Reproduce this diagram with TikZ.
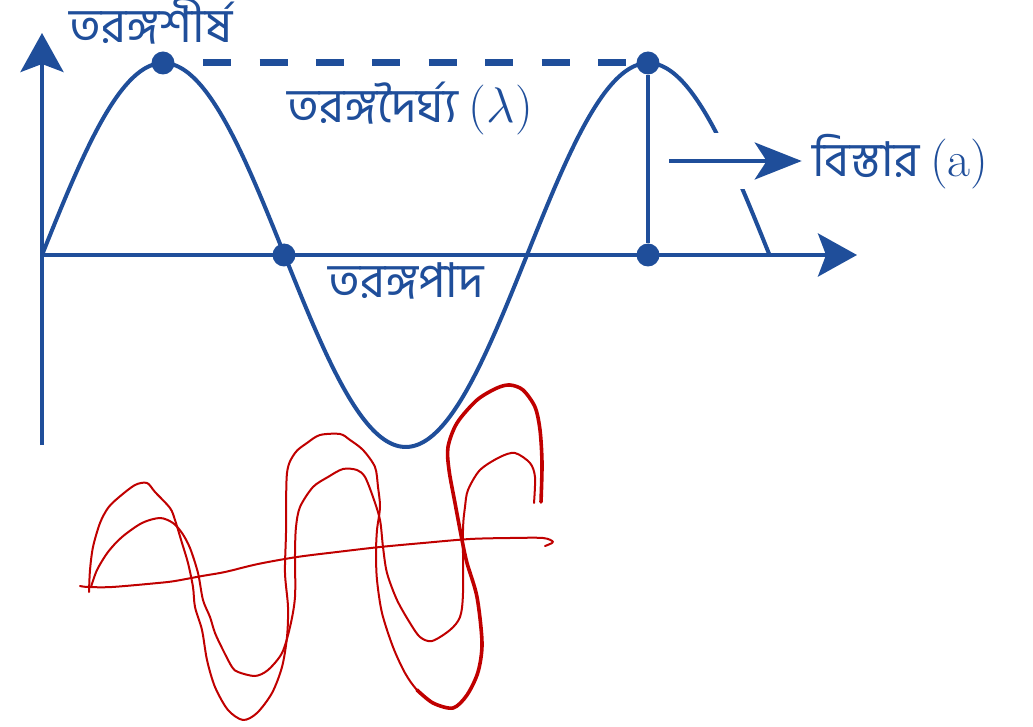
\RequirePackage{fix-cm}
\documentclass[tikz,border=0pt]{standalone}
\usepackage{fontspec}
\newfontfamily\bnfont[Script=Bengali]{Hind Siliguri}
\usepackage{tikz}
\usetikzlibrary{positioning,arrows.meta,calc}
\definecolor{wave}{HTML}{1F4E9A}
\definecolor{pen}{HTML}{C00000}
\newcommand{\latinpart}[1]{{\rmfamily\fontsize{50}{50}\selectfont #1}}

\begin{document}
\begin{tikzpicture}[
    x=1pt, y=-1pt,
    lbl/.style={text=wave, font=\bnfont\fontsize{48}{48}\selectfont, inner sep=0pt, anchor=base},
    dot/.style={circle, fill=wave, minimum size=23pt, inner sep=0pt},
    axis/.style={-{Stealth[length=39pt, width=43pt, inset=8pt]}, line width=4pt, wave},
    arr/.style={-{Stealth[length=47pt, width=37pt, inset=12pt]}, line width=4pt, wave},
    curve/.style={line width=4pt, wave},
    scribble/.style={pen, line width=2pt, line cap=round, line join=round}
  ]
    \useasboundingbox (0,0) rectangle (1033,727);

    % axes
    \coordinate (origin) at (42,255);
    \coordinate (ytop) at (42,33);
    \coordinate (ybot) at (42,445);
    \coordinate (xend) at (857,255);
    \draw[axis] (ybot) -- (ytop);
    \draw[axis] (origin) -- (xend);

    % wave
    \draw[curve] plot[domain=42:770, samples=150, smooth] (\x, {255-192*sin((\x-42)/485*360)});

    \node[dot] (crestA) at (163,63) {};
    \node[dot] (nodeA) at (284,255) {};
    \node[dot] (crestB) at (648,63) {};
    \node[dot] (footB) at (648,255) {};

    \draw[wave, line width=7pt, dash pattern=on 28pt off 28.4pt, dash phase=28pt] (crestA.east) -- (crestB.west);
    \draw[curve] (crestB) -- (footB);

    % amplitude label
    \node[fill=white, minimum width=153pt, minimum height=56pt, inner sep=0pt] (ampbox) at (733,161) {};
    \draw[arr] ([xshift=13pt]ampbox.west) -- ([xshift=-8pt]ampbox.east);

    \node[lbl] (crestlbl) at (151,43) {তরঙ্গশীর্ষ};
    \node[lbl] (lambdalbl) at (410,123) {তরঙ্গদৈর্ঘ্য \latinpart{($\lambda$)}};
    \node[lbl] (troughlbl) at (406,298) {তরঙ্গপাদ};
    \node[lbl, anchor=base west] (amp) at (812,177) {বিস্তার \latinpart{(a)}};

    % red pen strokes
    \draw[scribble] plot[smooth] coordinates {(80,586) (88,587) (112,587) (158,583) (175,581) (202,576) (225,572) (258,564) (297,557) (337,552) (380,547) (423,543) (470,539) (510,538) (543,538) (553,542) (545,546)};
    \draw[scribble] plot[smooth] coordinates {(89,592) (90,570) (93,547) (100,523) (108,508) (118,498) (135,485) (147,483) (155,492) (170,508) (175,520) (182,543) (188,563) (193,587) (195,607) (202,630) (207,660) (215,687) (228,710) (243,720) (257,713) (272,693) (282,667) (287,637) (288,607) (285,573) (286,533) (287,473) (295,453) (307,443) (320,435) (340,434) (350,440) (363,450) (375,467) (378,487) (380,507) (377,530) (376,553) (377,580) (382,613) (393,647) (405,673) (417,690) (433,703)};
    \draw[scribble, line width=3.6pt] plot[smooth] coordinates {(417,690) (433,703) (453,708) (467,695) (478,672) (482,643) (477,597) (467,563) (462,540) (455,503) (449,470) (448,447) (457,423) (477,400) (497,388) (510,385) (523,390) (535,407) (540,430) (542,463) (541,502)};
    \draw[scribble] plot[smooth] coordinates {(91,587) (97,570) (108,552) (122,537) (142,523) (160,518) (173,523) (182,533) (190,548) (198,573) (203,600) (210,617) (215,633) (223,650) (232,667) (238,672) (255,676) (268,670) (282,653) (290,627) (295,597) (295,553) (296,527) (300,507) (313,487) (328,477) (343,469) (357,470) (365,477) (373,497) (380,520) (383,547) (387,573) (397,600) (410,623) (420,637) (432,641) (450,630) (460,617) (463,593) (463,530) (465,507) (468,490) (480,470) (500,457) (515,453) (530,463) (535,477) (534,503)};
\end{tikzpicture}
\end{document}
